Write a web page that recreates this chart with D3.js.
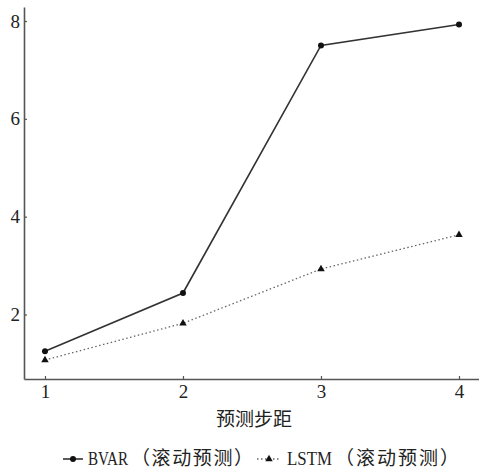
<!DOCTYPE html>
<html><head><meta charset="utf-8">
<script src="https://cdn.jsdelivr.net/npm/d3@7"></script>
<style>
body{margin:0;background:#fff;}
svg{display:block;}
text{font-family:"Liberation Serif","Noto Sans CJK SC",serif;fill:#222;}
</style></head>
<body><svg id="c" width="479" height="468"></svg>
<script>
const steps = [1, 2, 3, 4];
const bvar = [1.25, 2.44, 7.50, 7.93];
const lstm = [1.07, 1.82, 2.93, 3.63];
const yTicks = [2, 4, 6, 8];
const xLabel = "预测步距";
const seriesCodes = ["BVAR", "LSTM"];
const seriesNote = "（滚动预测）";

const svg = d3.select("#c");
const x = d3.scaleLinear().domain([0.848, 4.145]).range([24, 479]);
const y = d3.scaleLinear().domain([0.682, 8.286]).range([379, 7]);
const axisColor = "#555";

const gx = svg.append("g").attr("transform", "translate(0,379)")
  .call(d3.axisBottom(x).tickValues(steps).tickFormat(d3.format("d")).tickSizeInner(-3).tickSizeOuter(0).tickPadding(6));
const gy = svg.append("g").attr("transform", "translate(24,0)")
  .call(d3.axisLeft(y).tickValues(yTicks).tickSizeInner(-3).tickSizeOuter(0).tickPadding(4));
[gx, gy].forEach(g => {
  g.attr("font-family", null);
  g.select(".domain").attr("stroke", axisColor).attr("stroke-width", 1.6);
  g.selectAll(".tick line").attr("stroke", axisColor).attr("stroke-width", 1.2);
  g.selectAll(".tick text").attr("font-size", 19).attr("fill", "#222")
    .style("font-family", "Liberation Serif");
});

svg.append("text").attr("x", 254).attr("y", 426).attr("text-anchor", "middle")
  .attr("font-size", 19).text(xLabel);

const line = d3.line().x((d, i) => x(steps[i])).y(d => y(d));
svg.append("path").datum(lstm).attr("d", line).attr("fill", "none")
  .attr("stroke", "#666").attr("stroke-width", 1.3).attr("stroke-dasharray", "1.5,2.5");
svg.append("path").datum(bvar).attr("d", line).attr("fill", "none")
  .attr("stroke", "#333").attr("stroke-width", 1.6);

svg.selectAll(".pb").data(bvar).enter().append("circle")
  .attr("cx", (d, i) => x(steps[i])).attr("cy", d => y(d)).attr("r", 3).attr("fill", "#111");
const tri = d3.symbol().type(d3.symbolTriangle).size(24);
svg.selectAll(".pl").data(lstm).enter().append("path")
  .attr("d", tri).attr("transform", (d, i) => `translate(${x(steps[i])},${y(d)})`).attr("fill", "#111");

// legend
const ly = 459;
const lg = svg.append("g");
lg.append("line").attr("x1", 63).attr("x2", 83).attr("y1", ly).attr("y2", ly).attr("stroke", "#333").attr("stroke-width", 1.6);
lg.append("circle").attr("cx", 73).attr("cy", ly).attr("r", 3).attr("fill", "#111");
lg.append("line").attr("x1", 257).attr("x2", 281).attr("y1", ly).attr("y2", ly).attr("stroke", "#666").attr("stroke-width", 1.3).attr("stroke-dasharray", "1.5,2.5");
lg.append("path").attr("d", tri).attr("transform", `translate(269,${ly})`).attr("fill", "#111");

const legendItems = [
  {code: seriesCodes[0], x0: 88, w0: 40, x1: 131, w1: 122},
  {code: seriesCodes[1], x0: 287, w0: 45, x1: 335, w1: 124}
];
legendItems.forEach(it => {
  const g = lg.append("g");
  const t = g.append("text").attr("font-size", 19).text(it.code);
  const nat = t.node().getComputedTextLength();
  g.attr("transform", `translate(${it.x0},${ly + 6}) scale(${it.w0 / nat},1)`);
  lg.append("text").attr("x", it.x1).attr("y", ly + 6).attr("font-size", 19)
    .attr("textLength", it.w1).attr("lengthAdjust", "spacing").text(seriesNote);
});
</script></body></html>
